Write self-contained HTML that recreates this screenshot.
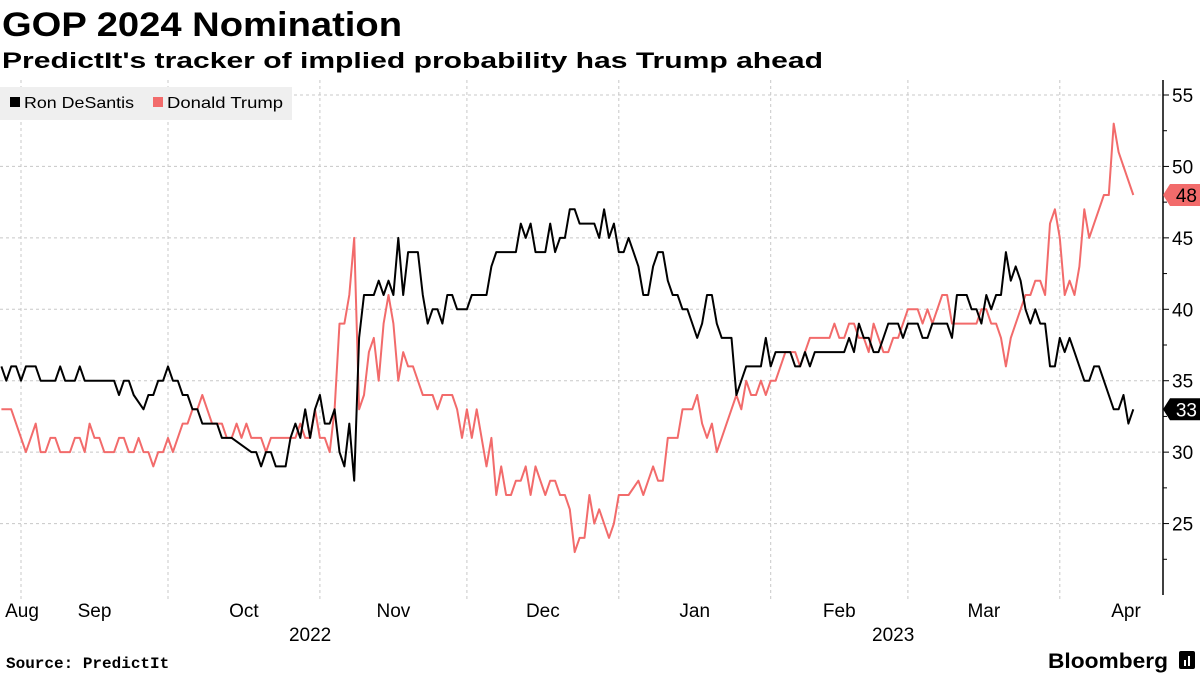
<!DOCTYPE html>
<html><head><meta charset="utf-8"><style>
html,body{margin:0;padding:0;background:#fff;}
svg{display:block;font-family:"Liberation Sans",sans-serif;}
</style></head><body>
<svg id="chart" width="1200" height="675" viewBox="0 0 1200 675">
<text x="2" y="36" font-size="34" font-weight="bold" textLength="400" lengthAdjust="spacingAndGlyphs">GOP 2024 Nomination</text>
<text x="2" y="68" font-size="22" font-weight="bold" textLength="821" lengthAdjust="spacingAndGlyphs">PredictIt's tracker of implied probability has Trump ahead</text>
<g id="grid"></g>
<g id="series"></g>
<g id="axis"></g>
<g id="xaxis"></g>
<g>
<rect x="0" y="87" width="292" height="33" fill="#efefef"/>
<rect x="10" y="97" width="10" height="10" fill="#000"/>
<text x="24" y="108" font-size="16" textLength="110" lengthAdjust="spacingAndGlyphs">Ron DeSantis</text>
<rect x="153" y="97" width="10" height="10" fill="#f26b6b"/>
<text x="167" y="108" font-size="16" textLength="116" lengthAdjust="spacingAndGlyphs">Donald Trump</text>
</g>
<text x="6" y="668" font-size="16" font-weight="bold" font-family="Liberation Mono, monospace">Source: PredictIt</text>
<text x="1048" y="668" font-size="21" font-weight="bold" textLength="120" lengthAdjust="spacingAndGlyphs">Bloomberg</text>
<rect x="1179" y="651" width="16" height="18" rx="2" fill="#000"/>
<rect x="1184" y="660" width="2" height="6" fill="#fff"/>
<rect x="1188" y="656" width="2" height="10" fill="#fff"/>
</svg>
<script>
const desDays=[0,1,2,3,4,5,7,8,11,12,13,15,16,17,23,24,25,26,27,29,30,31,32,33,34,35,36,37,38,39,40,41,44,45,47,51,52,53,54,55,56,58,59,60,61,62,63,64,65,66,67,68,69,70,71,72,73,74,76,77,78,79,80,81,82,83,85,86,87,88,89,90,91,92,93,95,96,99,100,101,105,106,107,108,109,111,112,113,114,115,116,117,118,121,122,123,124,125,126,127,128,129,130,131,132,133,134,135,136,137,138,139,140,141,142,143,144,145,146,147,149,150,152,155,156,157,158,161,162,163,164,165,166,172,173,174,175,176,177,178,179,180,181,183,184,185,187,188,189,190,193,194,195,197,198,199,200,201,202,203,204,205,206,207,208,209,210,211,212,213,214,215,216,217,218,219,220,221,222,223,224,225,227,228,229,230,231];
const desVals=[36,35,36,36,35,36,36,35,35,36,35,35,36,35,35,34,35,35,34,33,34,34,35,35,36,35,35,34,34,33,33,32,32,31,31,30,30,29,30,30,29,29,31,32,31,33,31,33,34,32,32,33,30,29,32,28,38,41,41,42,41,42,41,45,41,44,44,41,39,40,40,39,41,41,40,40,41,41,43,44,44,46,45,46,44,44,46,44,45,45,47,47,46,46,45,47,45,46,44,44,45,44,43,41,41,43,44,44,42,41,41,40,40,39,38,39,41,41,39,38,38,34,36,36,38,36,37,37,36,36,37,36,37,37,38,37,39,38,38,37,37,38,39,39,38,39,39,38,38,39,39,38,41,41,40,40,39,41,40,41,41,44,42,43,42,40,39,40,39,39,36,36,38,37,38,37,36,35,35,36,36,35,33,33,34,32,33];
const trDays=[0,2,3,5,6,7,8,9,10,11,12,14,15,16,17,18,19,20,21,23,24,25,26,27,28,29,30,31,32,33,34,35,37,38,39,40,41,42,43,45,46,47,48,49,50,51,53,54,55,60,61,62,63,64,65,66,67,68,69,70,71,72,73,74,75,76,77,78,79,80,81,82,83,84,86,88,89,90,92,93,94,95,96,97,99,100,101,102,103,104,105,106,107,108,109,111,112,113,114,115,116,117,118,119,120,121,122,124,125,126,128,130,131,132,133,134,135,136,138,139,141,142,143,144,145,146,147,148,149,150,151,152,153,154,155,156,157,158,159,160,162,163,164,165,166,169,170,171,172,173,174,175,176,177,178,179,180,181,182,183,184,185,187,188,189,190,191,192,193,194,199,200,201,202,203,204,205,206,207,208,209,210,211,212,213,214,215,216,217,218,219,220,221,222,223,224,225,226,227,228,229,231];
const trVals=[33,33,32,30,31,32,30,30,31,31,30,30,31,31,30,32,31,31,30,30,31,31,30,30,31,30,30,29,30,30,31,30,32,32,33,33,34,33,32,32,31,31,32,31,32,31,31,30,31,31,32,31,31,33,31,31,30,33,39,39,41,45,33,34,37,38,35,39,41,39,35,37,36,36,34,34,33,34,34,33,31,33,31,33,29,31,27,29,27,27,28,28,29,27,29,27,28,28,27,27,26,23,24,24,27,25,26,24,25,27,27,28,27,28,29,28,28,31,31,33,33,34,32,31,32,30,31,32,33,34,33,35,34,34,35,34,35,35,36,37,37,36,37,38,38,38,39,38,38,39,39,38,38,37,39,38,37,37,38,38,39,40,40,39,40,39,40,41,41,39,39,40,40,39,39,38,36,38,39,40,41,41,42,42,41,46,47,45,41,42,41,43,47,45,46,47,48,48,53,51,50,48];
const yTicks=[25,30,35,40,45,50,55];
const monthLabels=["Aug","Sep","Oct","Nov","Dec","Jan","Feb","Mar","Apr"];
const monthStarts=[-27,4,34,65,95,126,157,185,216]; // days since Aug 28
const yearLabels=["2022","2023"];
const yearMid=[63,182];
const NS="http://www.w3.org/2000/svg";
const X0=1.4,PXD=4.9,AX=1163,TOP=80,BOT=595,VMAX=56.05,VMIN=20;
const xs=d=>X0+d*PXD;
const ys=v=>TOP+(VMAX-v)/(VMAX-VMIN)*(BOT-TOP);
function mk(tag,attrs,parent){const e=document.createElementNS(NS,tag);for(const k in attrs)e.setAttribute(k,attrs[k]);parent.appendChild(e);return e;}
const grid=document.getElementById('grid'),ser=document.getElementById('series'),ax=document.getElementById('axis'),xa=document.getElementById('xaxis');
yTicks.forEach(v=>{
 const l=mk('line',{x1:0,x2:AX,y1:ys(v),y2:ys(v),stroke:'#c8c8c8','stroke-dasharray':'3,3'},grid);
 
 
 const t=mk('line',{x1:AX,x2:AX+6,y1:ys(v),y2:ys(v),stroke:'#000'},ax);
 
 
 const m=mk('line',{x1:AX,x2:AX+4,y1:ys(v-2.5),y2:ys(v-2.5),stroke:'#000'},ax);
 
 
 const tx=mk('text',{x:AX+9,y:ys(v)+7,'font-size':19},ax);
 tx.textContent=v;
 
 
});
const al=mk('line',{x1:AX,x2:AX,y1:TOP,y2:BOT,stroke:'#000','stroke-width':1.5},ax);


monthStarts.forEach((d,i)=>{
 if(d>0){const g=mk('line',{x1:xs(d),x2:xs(d),y1:TOP,y2:BOT+5,stroke:'#c8c8c8','stroke-dasharray':'3,3'},grid);
 
 }
 const next=i<monthStarts.length-1?monthStarts[i+1]:d+30;
 let cx=xs((Math.max(d,0)+next)/2);
 if(i===0)cx=22;
 if(i===monthStarts.length-1)cx=1126;
 const t=mk('text',{x:cx,y:617,'font-size':19,'text-anchor':'middle'},xa);
 t.textContent=monthLabels[i];
 
 
});
yearLabels.forEach((y,i)=>{
 const t=mk('text',{x:xs(yearMid[i]),y:641,'font-size':19,'text-anchor':'middle'},xa);
 t.textContent=y;
 
 
});
function line(days,vals,color,name){
 const p=days.map((d,i)=>(i?'L':'M')+xs(d).toFixed(1)+','+ys(vals[i]).toFixed(1)).join('');
 const e=mk('path',{d:p,fill:'none',stroke:color,'stroke-width':2,'stroke-linejoin':'round'},ser);
 
 
}
line(trDays,trVals,'#f26b6b','line-trump');
line(desDays,desVals,'#000','line-desantis');
function tag(v,fill,txtColor,name){
 const y=ys(v);
 const g=mk('g',{},ax);
 
 
 mk('path',{d:`M${AX},${y}L${AX+7},${y-11}L1200,${y-11}L1200,${y+11}L${AX+7},${y+11}Z`,fill:fill},g);
 const t=mk('text',{x:AX+34,y:y+7,'font-size':19,'text-anchor':'end',fill:txtColor},g);
 t.textContent=v;
}
tag(trVals[trVals.length-1],'#f26b6b','#000','last-value-tag-trump');
tag(desVals[desVals.length-1],'#000','#fff','last-value-tag-desantis');
</script>
</body></html>
